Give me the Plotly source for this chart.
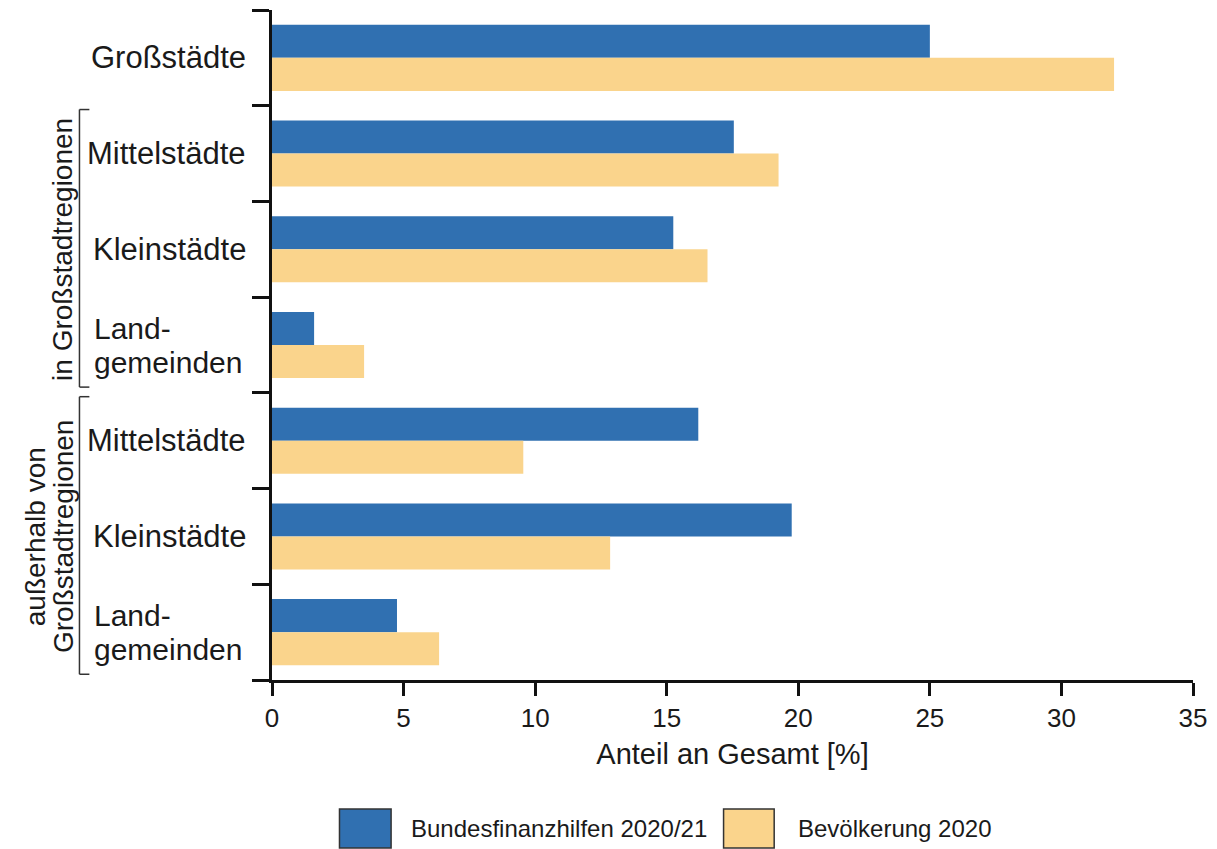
import plotly.graph_objects as go

# Gemeindetypen (top to bottom) and their group membership
labels = ["Großstädte", "Mittelstädte", "Kleinstädte", "Land-\ngemeinden",
          "Mittelstädte", "Kleinstädte", "Land-\ngemeinden"]
series_names = ["Bundesfinanzhilfen 2020/21", "Bevölkerung 2020"]
finanzhilfen = [25.0, 17.55, 15.25, 1.6, 16.2, 19.75, 4.75]
bevoelkerung = [32.0, 19.25, 16.55, 3.5, 9.55, 12.85, 6.35]
groups = [(["in Großstadtregionen"], 1, 3),
          (["außerhalb von", "Großstadtregionen"], 4, 6)]
x_ticks = [0, 5, 10, 15, 20, 25, 30, 35]

BLUE = "#3070b1"
BEIGE = "#fad48c"
INK = "#1a1a1a"
FONT = "Liberation Sans, Arial, sans-serif"
NARROW = "Liberation Sans Narrow, Arial Narrow, Liberation Sans, sans-serif"

W, H = 1217, 849
L, R, T, B = 272, 17, 10, 169
PW, PH = W - L - R, H - T - B


def px(x):
    return (x - L) / PW


def py(y):
    return (H - B - y) / PH


idx = list(range(len(labels)))

fig = go.Figure()
fig.add_bar(y=idx, x=finanzhilfen, orientation="h", name=series_names[0],
            marker=dict(color=BLUE, line=dict(width=0)), showlegend=False)
fig.add_bar(y=idx, x=bevoelkerung, orientation="h", name=series_names[1],
            marker=dict(color=BEIGE, line=dict(width=0)), showlegend=False)

annotations = []
shapes = []
label_font = dict(size=31, color=INK, family=FONT)
two_line_font = dict(size=30, color=INK, family=FONT)

# category labels left of the axis; two-line labels are set as two tight lines
for i, lab in enumerate(labels):
    if "\n" in lab:
        top, bottom = lab.split("\n")
        annotations.append(dict(text=top, xref="paper", yref="y", x=px(91), y=i,
                                xanchor="left", yanchor="middle", yshift=17,
                                showarrow=False, font=two_line_font))
        annotations.append(dict(text=bottom, xref="paper", yref="y", x=px(91), y=i,
                                xanchor="left", yanchor="middle", yshift=-17,
                                showarrow=False, font=two_line_font))
    else:
        annotations.append(dict(text=lab, xref="paper", yref="y", x=0, y=i,
                                xanchor="right", yanchor="middle", xshift=-24,
                                showarrow=False, font=label_font))

# group brackets with rotated captions
for lines, i0, i1 in groups:
    y_top = i0 - 0.5 + 0.04
    y_bot = i1 + 0.5 - 0.06
    shapes.append(dict(type="line", xref="paper", yref="y", x0=px(78), x1=px(78),
                       y0=y_top, y1=y_bot, line=dict(color="#333", width=1.5)))
    for yy in (y_top, y_bot):
        shapes.append(dict(type="line", xref="paper", yref="y", x0=px(78), x1=px(88),
                           y0=yy, y1=yy, line=dict(color="#333", width=1.5)))
    centres = [61] if len(lines) == 1 else [34, 62]
    for text, cx in zip(lines, centres):
        annotations.append(dict(text=text, xref="paper", yref="y", x=px(cx),
                                y=(i0 + i1) / 2, xanchor="center", yanchor="middle",
                                textangle=-90, showarrow=False,
                                font=dict(size=28, color=INK, family=FONT)))

# legend drawn below the axis title
legend_items = [(series_names[0], BLUE, 340, 392, 410), (series_names[1], BEIGE, 727, 778, 800)]
for name, col, x0, x1, tx in legend_items:
    shapes.append(dict(type="rect", xref="paper", yref="paper", x0=px(x0), x1=px(x1),
                       y0=py(848), y1=py(809), fillcolor=col, line=dict(color="#333", width=1.5)))
    annotations.append(dict(text=name, xref="paper", yref="paper", x=px(tx), y=py(829),
                            xanchor="left", yanchor="middle", showarrow=False,
                            font=dict(size=24, color=INK, family=FONT)))

fig.update_layout(
    width=W, height=H,
    margin=dict(l=L, r=R, t=T, b=B, pad=0),
    paper_bgcolor="white", plot_bgcolor="white",
    barmode="group", bargap=0.31, bargroupgap=0,
    showlegend=False,
    annotations=annotations, shapes=shapes,
    font=dict(family=FONT, color=INK),
)
fig.update_xaxes(range=[0, 35], tickvals=x_ticks, showgrid=False, zeroline=False,
                 showline=True, linecolor="#111", linewidth=3,
                 ticks="outside", ticklen=13, tickwidth=3, tickcolor="#111",
                 tickfont=dict(size=26, family=NARROW, color=INK),
                 title=dict(text="Anteil an Gesamt [%]", standoff=12,
                            font=dict(size=29, family=FONT, color=INK)))
fig.update_yaxes(range=[6.5, -0.5], tickvals=[i - 0.5 for i in range(len(labels) + 1)],
                 showticklabels=False, showgrid=False, zeroline=False,
                 showline=True, linecolor="#111", linewidth=3,
                 ticks="outside", ticklen=17, tickwidth=3, tickcolor="#111")

fig.write_html("out.html")
